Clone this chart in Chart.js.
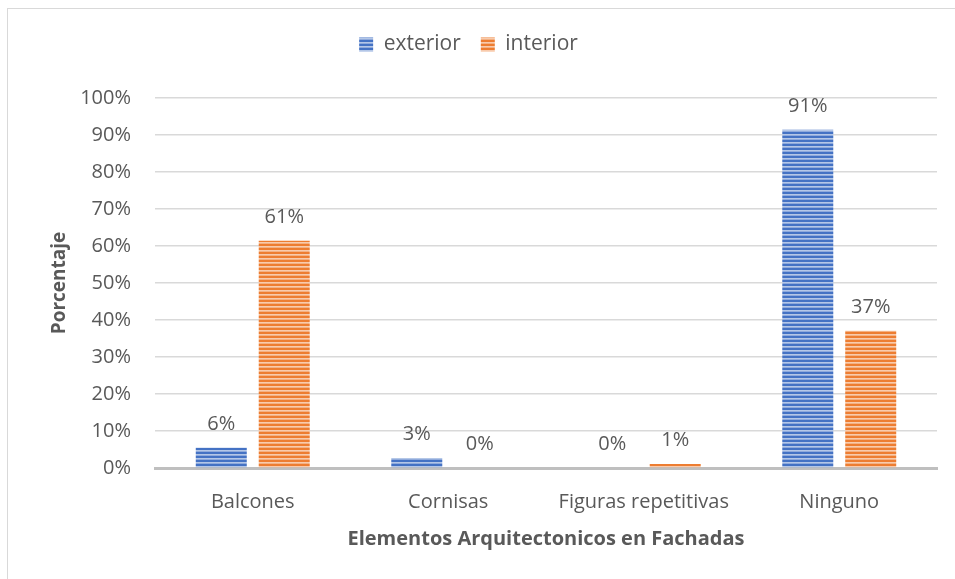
<!DOCTYPE html>
<html>
<head>
<meta charset="utf-8">
<script src="https://cdn.jsdelivr.net/npm/chart.js@4/dist/chart.umd.min.js"></script>
<style>
    html, body { margin: 0; padding: 0; background: #fff; }
    #frame {
        position: absolute; left: 7px; top: 8px;
        width: 960px; height: 580px;
        border: 1px solid #d9d9d9;
    }
    #wrap { position: absolute; left: 0; top: 0; width: 955px; height: 579px; }
</style>
</head>
<body>
<div id="frame"></div>
<div id="wrap"><canvas id="chart"></canvas></div>
<script>
// datos del gráfico
const categories = ['Balcones', 'Cornisas', 'Figuras repetitivas', 'Ninguno'];
const exteriorValues = [5.5, 2.7, 0, 91.4];
const interiorValues = [61.4, 0, 1.1, 37.1];
const yTicks = [0, 10, 20, 30, 40, 50, 60, 70, 80, 90, 100];

const FONT = '"Open Sans", sans-serif';
const TEXT = '#595959';
const SIZE = 20;

// rayado horizontal como en el original
function stripes(base, light, mid) {
    const c = document.createElement('canvas');
    c.width = 8; c.height = 4;
    const g = c.getContext('2d');
    g.fillStyle = base;  g.fillRect(0, 0, 8, 2);
    g.fillStyle = light; g.fillRect(0, 2, 8, 1);
    g.fillStyle = mid;   g.fillRect(0, 3, 8, 1);
    return g.createPattern(c, 'repeat');
}

const bluePattern = stripes('#4472C4', '#b4c7e7', '#8faadc');
const orangePattern = stripes('#ED7D31', '#f8cbad', '#f4b183');

// etiquetas de valor encima de las barras
const valueLabels = {
    id: 'valueLabels',
    afterDatasetsDraw(chart) {
        const ctx = chart.ctx;
        ctx.save();
        ctx.fillStyle = TEXT;
        ctx.font = SIZE + 'px ' + FONT;
        ctx.textAlign = 'center';
        ctx.textBaseline = 'alphabetic';
        chart.data.datasets.forEach((ds, i) => {
            chart.getDatasetMeta(i).data.forEach((bar, j) => {
                ctx.fillText(Math.round(ds.data[j]) + '%', bar.x, bar.y - 18);
            });
        });
        ctx.restore();
    }
};

// más espacio entre la leyenda y el área del gráfico
const legendGap = {
    id: 'legendGap',
    beforeLayout(chart) {
        const legend = chart.legend;
        if (!legend || legend._gapPatched) return;
        const fit = legend.fit;
        legend.fit = function () {
            fit.call(this);
            this.height += 33;
        };
        legend._gapPatched = true;
    }
};

new Chart(document.getElementById('chart'), {
    type: 'bar',
    data: {
        labels: categories,
        datasets: [
            { label: 'exterior', data: exteriorValues, backgroundColor: bluePattern, borderWidth: 0 },
            { label: 'interior', data: interiorValues, backgroundColor: orangePattern, borderWidth: 0 }
        ]
    },
    options: {
        responsive: true,
        maintainAspectRatio: false,
        animation: false,
        datasets: { bar: { categoryPercentage: 0.644, barPercentage: 0.81 } },
        layout: { padding: { top: 14, right: 18, bottom: 28, left: 0 } },
        plugins: {
            tooltip: { enabled: false },
            legend: {
                position: 'top',
                labels: {
                    font: { family: FONT, size: 21 },
                    color: TEXT,
                    boxWidth: 14,
                    boxHeight: 14,
                    padding: 20
                }
            }
        },
        scales: {
            x: {
                afterFit(scale) { scale.height = 83; },
                grid: { display: false, drawTicks: false },
                border: { display: true, color: '#bfbfbf', width: 3 },
                ticks: { font: { family: FONT, size: SIZE }, color: TEXT, padding: 22 },
                title: {
                    display: true,
                    text: 'Elementos Arquitectonicos en Fachadas',
                    font: { family: FONT, size: 20, weight: 'bold' },
                    color: TEXT,
                    padding: { top: 0, bottom: 0 }
                }
            },
            y: {
                min: 0,
                max: 100,
                afterBuildTicks(scale) {
                    scale.ticks = yTicks.map(v => ({ value: v }));
                },
                afterFit(scale) { scale.width = 155; },
                grid: { color: '#d9d9d9', lineWidth: 1.5, drawTicks: false },
                border: { display: false },
                ticks: {
                    font: { family: FONT, size: SIZE },
                    color: TEXT,
                    padding: 24,
                    callback: v => v + '%'
                },
                title: {
                    display: true,
                    text: 'Porcentaje',
                    font: { family: FONT, size: 19, weight: 'bold' },
                    color: TEXT,
                    padding: { top: 48, bottom: 0 }
                }
            }
        }
    },
    plugins: [valueLabels, legendGap]
});
</script>
</body>
</html>
